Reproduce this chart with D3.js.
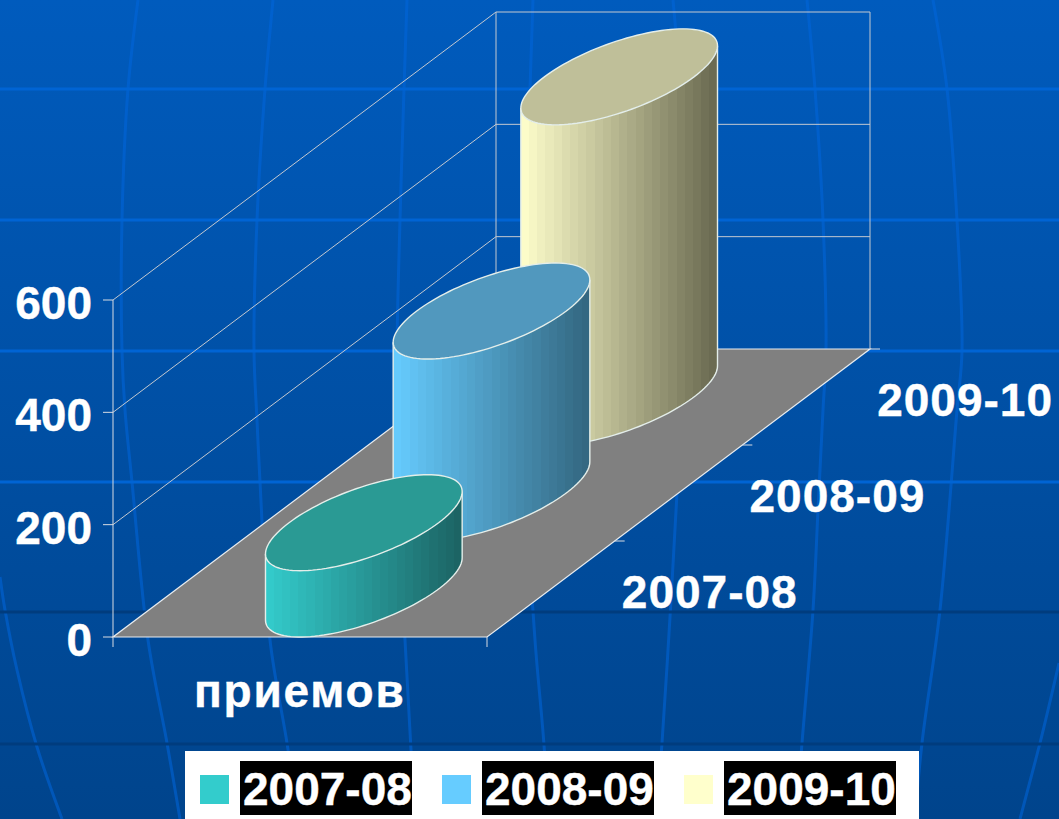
<!DOCTYPE html>
<html lang="ru">
<head>
<meta charset="utf-8">
<script src="https://cdnjs.cloudflare.com/ajax/libs/d3/7.8.5/d3.min.js"></script>
<style>
html,body{margin:0;padding:0;background:#004a99;overflow:hidden}
svg{display:block}
text{font-family:"Liberation Sans",Arial,sans-serif;font-weight:700;font-size:46px;fill:#fff;stroke:#fff;stroke-width:.4}
</style>
</head>
<body>
<svg id="chart" width="1059" height="819"></svg>
<script>
// ---- data ----
const categories = ["2007-08", "2008-09", "2009-10"];
const values = [118, 324, 570];
const axisTicks = [0, 200, 400, 600];
const measureLabel = "приемов";
const leftColors = ["#33CCCC", "#66CCFF", "#FFFFCC"];
const rightColors = ["#1B6262", "#33667F", "#68684F"];
const topColors = ["#2A9A94", "#5198BE", "#BFBF99"];

// ---- background decoration (slide template) ----
const lightRules = [89, 220, 351, 482];
const darkRules = [612, 744];
const meridians = [
  [[0,577],[5,610],[17,670],[37,747],[62,819]],
  [[138,0],[128,89],[122,220],[122,351],[125,410],[132,482],[148,640],[167,743],[180,819]],
  [[273,0],[265,89],[257,220],[254,351],[257,420],[260,482],[270,640],[287,743],[298,819]],
  [[407,0],[404,89],[400,220],[397,351],[398,482],[405,640],[411,750],[414,819]],
  [[533,0],[530,89],[526,220],[525,351],[527,500],[535,640],[544,745],[548,819]],
  [[673,0],[680,89],[684,220],[685,351],[677,493],[670,617],[662,743],[656,819]],
  [[807,0],[815,89],[823,220],[826,351],[823,410],[818,510],[813,610],[802,743],[796,819]],
  [[933,0],[947,89],[957,220],[962,351],[957,410],[940,610],[922,743],[915,819]],
  [[1059,663],[1040,743],[1020,819]]
];

const svg = d3.select("#chart");
const defs = svg.append("defs");
const bg = defs.append("linearGradient").attr("id","bg").attr("x1",0).attr("y1",0).attr("x2",0).attr("y2",1);
bg.append("stop").attr("offset","0%").attr("stop-color","#005BBD");
bg.append("stop").attr("offset","100%").attr("stop-color","#00448C");
svg.append("rect").attr("width",1059).attr("height",819).attr("fill","url(#bg)");

const curve = d3.line().curve(d3.curveCatmullRom);
svg.append("g").selectAll("path").data(meridians).join("path")
  .attr("d",curve).attr("fill","none").attr("stroke","#0066DC").attr("stroke-opacity",.55).attr("stroke-width",3);
svg.append("g").selectAll("line").data(lightRules).join("line")
  .attr("x1",0).attr("x2",1059).attr("y1",d=>d).attr("y2",d=>d)
  .attr("stroke","#0064D4").attr("stroke-width",3);
svg.append("g").selectAll("line").data(darkRules).join("line")
  .attr("x1",0).attr("x2",1059).attr("y1",d=>d).attr("y2",d=>d)
  .attr("stroke","#003C7E").attr("stroke-width",3);

// ---- projection ----
const originX = 113, originY = 637, width = 374, depthX = 383, depthY = 288;
const yHeight = d3.scaleLinear().domain([0,600]).range([0,337]);
const xFrac = d3.scaleLinear().domain([0,1]).range([0,width]);
const zBand = d3.scaleBand().domain(categories).range([0,1]);
const proj = (fx,fz,v=0) => [originX + xFrac(fx) + depthX*fz, originY - depthY*fz - yHeight(v)];

const wall = svg.append("g").attr("fill","none").attr("stroke","#C4C9D0").attr("stroke-width",1);
axisTicks.forEach(t=>{
  const a=proj(0,0,t), b=proj(0,1,t), c=proj(1,1,t);
  if(t>0) wall.append("path").attr("d",d3.line()([a,b,c]));
});
wall.append("path").attr("d",d3.line()([proj(0,1,0),proj(0,1,600)]));
wall.append("path").attr("d",d3.line()([proj(1,1,0),proj(1,1,600)]));

// floor
svg.append("path").attr("d",d3.line()([proj(0,0),proj(1,0),proj(1,1),proj(0,1)])+"Z")
  .attr("fill","#808080");
svg.append("path").attr("d",d3.line()([proj(0,1),proj(0,0),proj(1,0),proj(1,1),proj(0,1)]))
  .attr("fill","none").attr("stroke","#E8ECEF").attr("stroke-width",1.2);

// front axis
const ax = svg.append("g").attr("stroke","#D8DCE2").attr("stroke-width",1).attr("fill","none");
ax.append("path").attr("d",d3.line()([proj(0,0,600),[originX,originY+10]]));
ax.append("path").attr("d",d3.line()([proj(1,0),[proj(1,0)[0],originY+10]]));
axisTicks.forEach(t=>{
  const p=proj(0,0,t);
  ax.append("path").attr("d",d3.line()([[p[0]-10,p[1]],p]));
});
[1/3,2/3,1].forEach(f=>{
  const p=proj(1,f);
  ax.append("path").attr("d",d3.line()([p,[p[0]+10,p[1]]]));
});

// ---- cylinders, back to front ----
const diam = 0.40;
const line = d3.line();
d3.range(categories.length).reverse().forEach(i=>{
  const c = categories[i], v = values[i];
  const fz = zBand(c)+zBand.bandwidth()/2;
  const [cx,cy] = proj(0.5,fz);
  const a = xFrac(diam/2), dx = depthX*zBand.bandwidth()/2, dy = depthY*zBand.bandwidth()/2;
  const R = Math.hypot(a,dx), phi = Math.atan2(dx,a), h = yHeight(v);
  const pt = (t,lift) => [cx + a*Math.cos(t) + dx*Math.sin(t), cy - dy*Math.sin(t) - lift];
  const g = svg.append("g");
  // stepped horizontal shading on the side wall
  const n = 24, color = d3.interpolateRgb(leftColors[i],rightColors[i]);
  const grad = defs.append("linearGradient").attr("id","side"+i).attr("gradientUnits","userSpaceOnUse")
    .attr("x1",cx-R).attr("x2",cx+R).attr("y1",0).attr("y2",0);
  d3.range(n).forEach(s=>{
    const col = color((s+.5)/n);
    grad.append("stop").attr("offset",s/n).attr("stop-color",col);
    grad.append("stop").attr("offset",(s+1)/n).attr("stop-color",col);
  });
  const front=[], back=[], full=[];
  for(let k=0;k<=60;k++){
    const t = phi-Math.PI+Math.PI*k/60;
    front.push(pt(t,0)); back.unshift(pt(t,h));
  }
  for(let k=0;k<=120;k++){ full.push(pt(2*Math.PI*k/120,h)); }
  g.append("path").attr("d",line(front.concat(back))+"Z").attr("fill",`url(#side${i})`);
  const stroke="#E4EEEA";
  g.append("path").attr("d",line([pt(phi-Math.PI,h)].concat(front,[pt(phi,h)])))
    .attr("fill","none").attr("stroke",stroke).attr("stroke-width",1.4);
  g.append("path").attr("d",line(full)+"Z").attr("fill",topColors[i]).attr("stroke",stroke).attr("stroke-width",1.4);
});

// ---- text ----
svg.append("g").selectAll("text").data(axisTicks).join("text")
  .attr("x",92).attr("y",d=>proj(0,0,d)[1]+19).attr("text-anchor","end").text(d=>d);
svg.append("g").selectAll("text").data(categories).join("text")
  .attr("x",c=>proj(1,zBand(c)+zBand.bandwidth()/2)[0]+71)
  .attr("y",c=>proj(1,zBand(c)+zBand.bandwidth()/2)[1]+19)
  .attr("letter-spacing",1).text(c=>c);
svg.append("text").attr("x",194).attr("y",707).attr("letter-spacing",1.8).text(measureLabel);

// ---- legend ----
const legendOff = [0,242,484];
const legend = svg.append("g");
legend.append("rect").attr("x",185).attr("y",751).attr("width",734).attr("height",68).attr("fill","#fff");
const li = legend.selectAll("g").data(categories).join("g").attr("transform",(d,i)=>`translate(${legendOff[i]},0)`);
li.append("rect").attr("x",200).attr("y",775).attr("width",29).attr("height",29).attr("fill",(d,i)=>leftColors[i]);
li.append("rect").attr("x",240).attr("y",761).attr("width",172).attr("height",54).attr("fill","#000");
li.append("text").attr("x",243).attr("y",805).text(d=>d);
</script>
</body>
</html>
